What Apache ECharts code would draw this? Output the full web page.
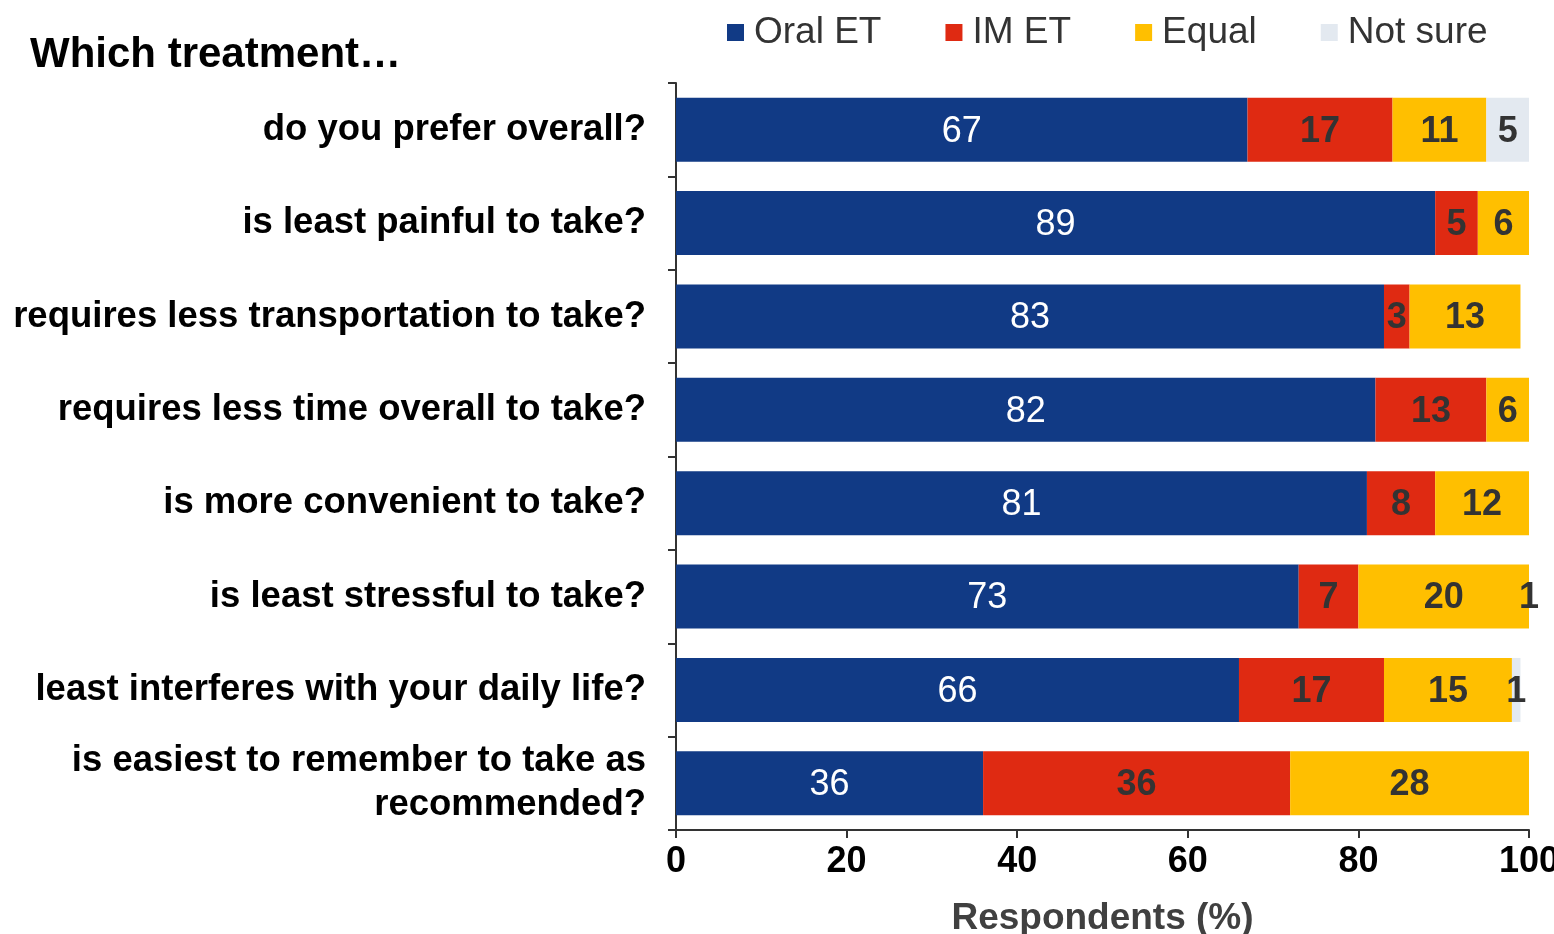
<!DOCTYPE html>
<html>
<head>
<meta charset="utf-8">
<script src="https://cdn.jsdelivr.net/npm/echarts@6/dist/echarts.min.js"></script>
<style>
  html, body { margin: 0; padding: 0; background: #fff; overflow: hidden; }
  #chart { width: 1554px; height: 934px; }
</style>
</head>
<body>
<div id="chart"></div>
<script>
// Survey questions, top to bottom
const categories = [
  'do you prefer overall?',
  'is least painful to take?',
  'requires less transportation to take?',
  'requires less time overall to take?',
  'is more convenient to take?',
  'is least stressful to take?',
  'least interferes with your daily life?',
  'is easiest to remember to take as\nrecommended?'
];
// Share of respondents (%) choosing each answer
const oralET  = [67, 89, 83, 82, 81, 73, 66, 36];
const imET    = [17, 5, 3, 13, 8, 7, 17, 36];
const equal   = [11, 6, 13, 6, 12, 20, 15, 28];
const notSure = [5, 0, 0, 0, 0, 1, 1, 0];
const xTicks = [0, 20, 40, 60, 80, 100];

const FONT = "'Liberation Sans', Arial, sans-serif";
const colors = ['#113a85', '#df2a12', '#ffbf00', '#e3e9f0'];

function series(name, data, color, labelColor, bold) {
  return {
    name: name,
    type: 'bar',
    stack: 'total',
    data: data,
    barWidth: 64,
    itemStyle: { color: color },
    label: {
      show: true,
      position: 'inside',
      offset: [0, 2],
      color: labelColor,
      fontFamily: FONT,
      fontSize: 36,
      fontWeight: bold ? 'bold' : 'normal',
      formatter: p => (p.value ? String(p.value) : '')
    },
    emphasis: { disabled: true }
  };
}

const chart = echarts.init(document.getElementById('chart'));
chart.setOption({
  animation: false,
  title: {
    text: 'Which treatment…',
    left: 25,
    top: 29,
    textStyle: { fontFamily: FONT, fontSize: 42, fontWeight: 'bold', color: '#000' }
  },
  legend: {
    left: 722,
    top: 9,
    itemWidth: 17,
    itemHeight: 17,
    itemGap: 64,
    icon: 'rect',
    textStyle: { fontFamily: FONT, fontSize: 37, color: '#333', padding: [0, 0, 0, 5] },
    data: ['Oral ET', 'IM ET', 'Equal', 'Not sure']
  },
  grid: { left: 676, right: 25, top: 83, bottom: 104, containLabel: false, outerBoundsMode: 'none' },
  xAxis: {
    type: 'value',
    min: 0,
    max: 100,
    interval: 20,
    name: 'Respondents (%)',
    nameLocation: 'middle',
    nameGap: 70,
    nameTextStyle: { fontFamily: FONT, fontSize: 37, fontWeight: 'bold', color: '#404040' },
    axisLine: { show: true, lineStyle: { color: '#333', width: 2 } },
    axisTick: { show: true, length: 8, lineStyle: { color: '#333', width: 2 } },
    axisLabel: {
      fontFamily: FONT, fontSize: 36, fontWeight: 'bold', color: '#000', margin: 14,
      formatter: v => (xTicks.includes(v) ? String(v) : '')
    },
    splitLine: { show: false }
  },
  yAxis: {
    type: 'category',
    inverse: true,
    data: categories,
    axisLine: { show: true, lineStyle: { color: '#333', width: 2 } },
    axisTick: { show: true, length: 8, alignWithLabel: false, lineStyle: { color: '#333', width: 2 } },
    axisLabel: {
      fontFamily: FONT, fontSize: 36.5, fontWeight: 'bold', color: '#000',
      margin: 30, align: 'right', lineHeight: 44
    }
  },
  series: [
    series('Oral ET', oralET, colors[0], '#fff', false),
    series('IM ET', imET, colors[1], '#333', true),
    series('Equal', equal, colors[2], '#333', true),
    series('Not sure', notSure, colors[3], '#333', true)
  ]
});
</script>
</body>
</html>
